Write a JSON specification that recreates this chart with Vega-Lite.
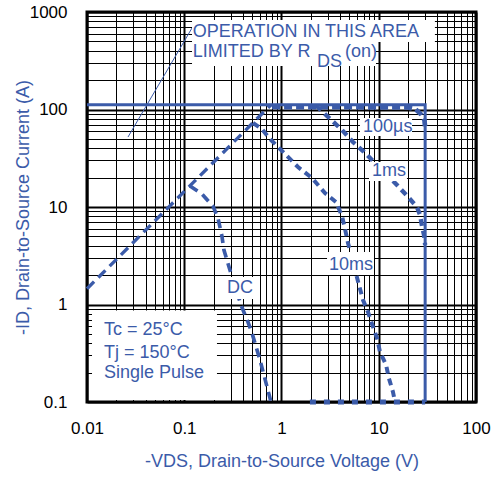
{
  "$schema": "https://vega.github.io/schema/vega-lite/v6.json",
  "width": 389,
  "height": 390,
  "autosize": {"type": "none"},
  "padding": {"left": 87, "top": 12, "right": 22, "bottom": 77},
  "background": "white",
  "config": {
    "view": {"stroke": "black", "strokeWidth": 3},
    "font": "Liberation Sans"
  },
  "datasets": {
    "curves": [
      {"s": "limit", "k": 0, "v": 0.01, "i": 112},
      {"s": "limit", "k": 1, "v": 30, "i": 112},
      {"s": "limit", "k": 2, "v": 30, "i": 0.1},
      {"s": "rds", "k": 0, "v": 0.01, "i": 1.45},
      {"s": "rds", "k": 1, "v": 0.78, "i": 112},
      {"s": "dc", "k": 0, "v": 0.1146, "i": 16.4},
      {"s": "dc", "k": 1, "v": 0.152, "i": 13.6},
      {"s": "dc", "k": 2, "v": 0.1975, "i": 10.2},
      {"s": "dc", "k": 3, "v": 0.222, "i": 7.7},
      {"s": "dc", "k": 4, "v": 0.244, "i": 5.04},
      {"s": "dc", "k": 5, "v": 0.256, "i": 3.62},
      {"s": "dc", "k": 6, "v": 0.295, "i": 2.26},
      {"s": "dc", "k": 7, "v": 0.383, "i": 0.99},
      {"s": "dc", "k": 8, "v": 0.452, "i": 0.661},
      {"s": "dc", "k": 9, "v": 0.497, "i": 0.51},
      {"s": "dc", "k": 10, "v": 0.601, "i": 0.27},
      {"s": "dc", "k": 11, "v": 0.78, "i": 0.1},
      {"s": "t10ms", "k": 0, "v": 0.509, "i": 72.7},
      {"s": "t10ms", "k": 1, "v": 0.63, "i": 63.1},
      {"s": "t10ms", "k": 2, "v": 0.762, "i": 49.8},
      {"s": "t10ms", "k": 3, "v": 1.036, "i": 36.7},
      {"s": "t10ms", "k": 4, "v": 1.478, "i": 25.7},
      {"s": "t10ms", "k": 5, "v": 2.06, "i": 19.8},
      {"s": "t10ms", "k": 6, "v": 2.8, "i": 13.9},
      {"s": "t10ms", "k": 7, "v": 3.63, "i": 11.25},
      {"s": "t10ms", "k": 8, "v": 4.19, "i": 8.09},
      {"s": "t10ms", "k": 9, "v": 4.5, "i": 5.95},
      {"s": "t10ms", "k": 10, "v": 4.83, "i": 4.27},
      {"s": "t10ms", "k": 11, "v": 5.43, "i": 2.73},
      {"s": "t10ms", "k": 12, "v": 6.26, "i": 1.585},
      {"s": "t10ms", "k": 13, "v": 6.89, "i": 1.11},
      {"s": "t10ms", "k": 14, "v": 7.75, "i": 0.838},
      {"s": "t10ms", "k": 15, "v": 8.73, "i": 0.588},
      {"s": "t10ms", "k": 16, "v": 9.59, "i": 0.453},
      {"s": "t10ms", "k": 17, "v": 10.3, "i": 0.326},
      {"s": "t10ms", "k": 18, "v": 11.9, "i": 0.24},
      {"s": "t10ms", "k": 19, "v": 12.7, "i": 0.176},
      {"s": "t10ms", "k": 20, "v": 14.0, "i": 0.127},
      {"s": "t10ms", "k": 21, "v": 14.7, "i": 0.1},
      {"s": "t1ms", "k": 0, "v": 2.26, "i": 110},
      {"s": "t1ms", "k": 1, "v": 2.94, "i": 85.8},
      {"s": "t1ms", "k": 2, "v": 4.19, "i": 61.6},
      {"s": "t1ms", "k": 3, "v": 5.43, "i": 46.4},
      {"s": "t1ms", "k": 4, "v": 7.05, "i": 36.7},
      {"s": "t1ms", "k": 5, "v": 10.3, "i": 25.1},
      {"s": "t1ms", "k": 6, "v": 15.4, "i": 16.8},
      {"s": "t1ms", "k": 7, "v": 20.0, "i": 12.7},
      {"s": "t1ms", "k": 8, "v": 24.7, "i": 10},
      {"s": "t1ms", "k": 9, "v": 26.6, "i": 8.28},
      {"s": "t1ms", "k": 10, "v": 27.8, "i": 6.39},
      {"s": "t1ms", "k": 11, "v": 29.2, "i": 5.16},
      {"s": "t1ms", "k": 12, "v": 30, "i": 4.08},
      {"s": "t100us", "k": 0, "v": 0.8, "i": 106},
      {"s": "t100us", "k": 1, "v": 20, "i": 105},
      {"s": "t100us", "k": 2, "v": 24, "i": 100},
      {"s": "t100us", "k": 3, "v": 27, "i": 90},
      {"s": "t100us", "k": 4, "v": 29.5, "i": 78},
      {"s": "t100us", "k": 5, "v": 30, "i": 65},
      {"s": "base", "k": 0, "v": 1.96, "i": 0.1},
      {"s": "base", "k": 1, "v": 30, "i": 0.1}
    ],
    "leader": [
      {"k": 0, "v": 0.0264, "i": 52.2},
      {"k": 1, "v": 0.1202, "i": 686}
    ],
    "boxes": [
      {"v": 0.1202, "v2": 37.8, "i": 828, "i2": 492},
      {"v": 0.1202, "v2": 9.37, "i": 492, "i2": 279},
      {"v": 6.41, "v2": 22.0, "i": 81.8, "i2": 53.5},
      {"v": 7.94, "v2": 19.5, "i": 28.9, "i2": 18.5},
      {"v": 2.94, "v2": 8.93, "i": 3.46, "i2": 2.01},
      {"v": 0.262, "v2": 0.522, "i": 1.914, "i2": 1.139},
      {"v": 0.01126, "v2": 0.217, "i": 0.866, "i2": 0.105}
    ],
    "labels": [
      {"t": "OPERATION IN THIS AREA", "v": 0.1222, "i": 624},
      {"t": "LIMITED BY R", "v": 0.1222, "i": 389},
      {"t": "DS", "v": 2.32, "i": 310},
      {"t": "(on)", "v": 4.5, "i": 385},
      {"t": "100µs", "v": 6.89, "i": 66.1},
      {"t": "1ms", "v": 8.52, "i": 23.4},
      {"t": "10ms", "v": 3.08, "i": 2.54},
      {"t": "DC", "v": 0.275, "i": 1.476},
      {"t": "Tc = 25°C", "v": 0.01496, "i": 0.548},
      {"t": "Tj = 150°C", "v": 0.01496, "i": 0.318},
      {"t": "Single Pulse", "v": 0.01496, "i": 0.198}
    ]
  },
  "encoding": {
    "x": {
      "field": "v",
      "type": "quantitative",
      "scale": {"type": "log", "domain": [0.01, 100], "nice": false},
      "axis": {
        "values": [0.01, 0.02, 0.03, 0.04, 0.05, 0.06, 0.07, 0.08, 0.09, 0.1, 0.2, 0.3, 0.4, 0.5, 0.6, 0.7, 0.8, 0.9, 1, 2, 3, 4, 5, 6, 7, 8, 9, 10, 20, 30, 40, 50, 60, 70, 80, 90, 100],
        "format": "~g",
        "labelExpr": "indexof([0.01, 0.1, 1, 10, 100], datum.value) >= 0 ? datum.label : ''",
        "grid": true,
        "gridColor": "black",
        "gridOpacity": 1,
        "gridWidth": {"condition": {"test": "indexof([0.01, 0.1, 1, 10, 100], datum.value) >= 0", "value": 2}, "value": 1},
        "ticks": false,
        "tickSize": 0,
        "domain": false,
        "labelFont": "Liberation Sans",
        "labelFontSize": 17,
        "labelColor": "black",
        "labelPadding": 18,
        "labelFlush": false,
        "labelOverlap": false,
        "labelBound": false,
        "title": "-VDS, Drain-to-Source Voltage (V)",
        "titleFont": "Liberation Sans",
        "titleFontSize": 18,
        "titleFontWeight": "normal",
        "titleColor": "#3b5ba9",
        "titlePadding": 16
      }
    },
    "y": {
      "field": "i",
      "type": "quantitative",
      "scale": {"type": "log", "domain": [0.1, 1000], "nice": false},
      "axis": {
        "values": [0.1, 0.2, 0.3, 0.4, 0.5, 0.6, 0.7, 0.8, 0.9, 1, 2, 3, 4, 5, 6, 7, 8, 9, 10, 20, 30, 40, 50, 60, 70, 80, 90, 100, 200, 300, 400, 500, 600, 700, 800, 900, 1000],
        "format": "~g",
        "labelExpr": "indexof([0.1, 1, 10, 100, 1000], datum.value) >= 0 ? datum.label : ''",
        "grid": true,
        "gridColor": "black",
        "gridOpacity": 1,
        "gridWidth": {"condition": {"test": "indexof([0.1, 1, 10, 100, 1000], datum.value) >= 0", "value": 2}, "value": 1},
        "ticks": false,
        "tickSize": 0,
        "domain": false,
        "labelFont": "Liberation Sans",
        "labelFontSize": 17,
        "labelColor": "black",
        "labelPadding": 20,
        "labelFlush": false,
        "labelOverlap": false,
        "labelBound": false,
        "title": "-ID,  Drain-to-Source Current (A)",
        "titleFont": "Liberation Sans",
        "titleFontSize": 18,
        "titleFontWeight": "normal",
        "titleColor": "#3b5ba9",
        "titlePadding": -3
      }
    }
  },
  "layer": [
    {
      "data": {"name": "curves"},
      "mark": {"type": "line", "color": "#3b5ba9", "strokeCap": "butt", "clip": false},
      "encoding": {
        "detail": {"field": "s", "type": "nominal"},
        "order": {"field": "k", "type": "quantitative"},
        "strokeDash": {
          "field": "s",
          "type": "nominal",
          "scale": {
            "domain": ["limit", "rds", "dc", "t10ms", "t1ms", "t100us", "base"],
            "range": [[1, 0], [10, 6], [9, 6], [7, 5], [7, 5], [8, 4], [6, 8]]
          },
          "legend": null
        },
        "strokeWidth": {
          "field": "s",
          "type": "ordinal",
          "scale": {
            "domain": ["limit", "rds", "dc", "t10ms", "t1ms", "t100us", "base"],
            "range": [3, 5, 4, 4, 4, 3.5, 4]
          },
          "legend": null
        }
      }
    },
    {
      "data": {"name": "leader"},
      "mark": {"type": "line", "color": "#3b5ba9", "strokeWidth": 1},
      "encoding": {
        "order": {"field": "k", "type": "quantitative"}
      }
    },
    {
      "data": {"name": "boxes"},
      "mark": {"type": "rect", "fill": "white", "stroke": null},
      "encoding": {
        "x2": {"field": "v2"},
        "y2": {"field": "i2"}
      }
    },
    {
      "data": {"name": "labels"},
      "mark": {"type": "text", "align": "left", "baseline": "middle", "font": "Liberation Sans", "fontSize": 18, "color": "#3b5ba9"},
      "encoding": {
        "text": {"field": "t", "type": "nominal"}
      }
    }
  ]
}
